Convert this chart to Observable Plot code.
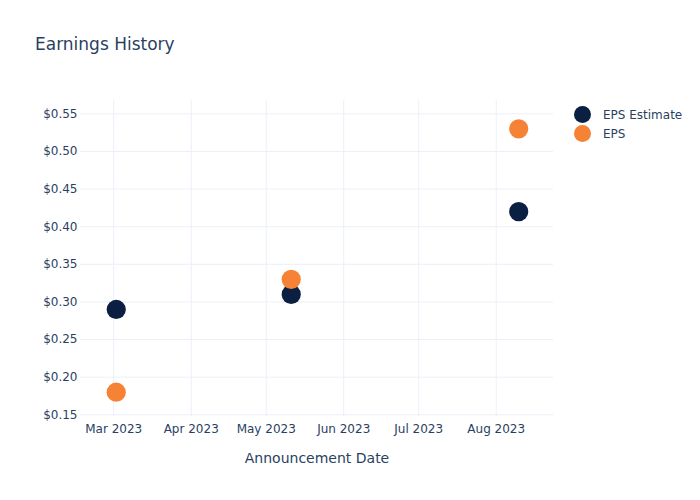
<!DOCTYPE html>
<html>
<head>
<meta charset="utf-8">
<script src="https://cdn.jsdelivr.net/npm/d3@7"></script>
<script src="https://cdn.jsdelivr.net/npm/@observablehq/plot@0.6"></script>
<style>
  html, body { margin: 0; padding: 0; background: #fff; }
  #wrap { position: relative; width: 700px; height: 500px; font-family: "DejaVu Sans", Verdana, sans-serif; color: #2a3f5f; }
  #title { position: absolute; left: 35px; top: 34px; font-size: 17px; color: #2a3f5f; }
  #legend { position: absolute; left: 574px; top: 105px; font-size: 12px; }
  .item { display: flex; align-items: center; height: 19px; }
  .sw { width: 17px; height: 17px; border-radius: 50%; margin-right: 12px; }
  #chart { position: absolute; left: 0; top: 0; }
</style>
</head>
<body>
<div id="wrap">
  <div id="chart"></div>
  <div id="title">Earnings History</div>
  <div id="legend"></div>
</div>
<script>
const dates = ["2023-03-02", "2023-05-11", "2023-08-10"];
const epsEstimate = [0.29, 0.31, 0.42];
const epsActual = [0.18, 0.33, 0.53];
const seriesNames = ["EPS Estimate", "EPS"];
const seriesColors = ["#0b1f42", "#f68236"];
const monthTicks = ["2023-03-01", "2023-04-01", "2023-05-01", "2023-06-01", "2023-07-01", "2023-08-01"];
const yTicks = [0.15, 0.20, 0.25, 0.30, 0.35, 0.40, 0.45, 0.50, 0.55];

const parse = d3.utcParse("%Y-%m-%d");
const rows = [];
dates.forEach((d, i) => rows.push({date: parse(d), value: epsEstimate[i], series: seriesNames[0]}));
dates.forEach((d, i) => rows.push({date: parse(d), value: epsActual[i], series: seriesNames[1]}));
const xt = monthTicks.map(parse);

const chart = Plot.plot({
  width: 700,
  height: 500,
  marginLeft: 80,
  marginRight: 147,
  marginTop: 100,
  marginBottom: 84,
  style: { fontFamily: "DejaVu Sans, Verdana, sans-serif", fontSize: "12px", color: "#2a3f5f", background: "#fff" },
  x: {
    type: "utc",
    domain: [new Date(Date.UTC(2023, 1, 15, 17)), new Date(Date.UTC(2023, 7, 23, 22))],
    ticks: xt,
    tickFormat: d3.utcFormat("%b %Y"),
    tickSize: 0,
    tickPadding: 8,
    label: "Announcement Date",
    labelAnchor: "center",
    labelArrow: "none",
    labelOffset: 46
  },
  y: {
    domain: [0.1477, 0.5677],
    ticks: yTicks,
    tickFormat: d => "$" + d3.format(".2f")(d),
    tickSize: 0,
    tickPadding: 3,
    label: null
  },
  color: { domain: seriesNames, range: seriesColors },
  marks: [
    Plot.gridX(xt, { stroke: "#ebf0f8", strokeOpacity: 1, strokeWidth: 1 }),
    Plot.gridY(yTicks, { stroke: "#ebf0f8", strokeOpacity: 1, strokeWidth: 1 }),
    Plot.dot(rows, { x: "date", y: "value", fill: "series", r: 9.6, stroke: "none" })
  ]
});
chart.querySelectorAll("[aria-label='x-axis label'] text").forEach(t => { t.style.fontSize = "14px"; });
document.getElementById("chart").appendChild(chart);

const legend = document.getElementById("legend");
seriesNames.forEach((n, i) => {
  const it = document.createElement("div");
  it.className = "item";
  it.innerHTML = `<div class="sw" style="background:${seriesColors[i]}"></div><span>${n}</span>`;
  legend.appendChild(it);
});
</script>
</body>
</html>
